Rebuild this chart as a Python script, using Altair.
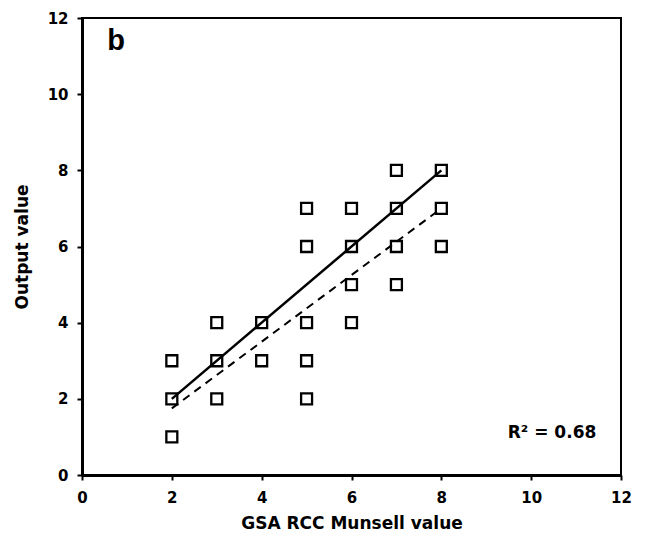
import altair as alt
import pandas as pd

# Observed points (GSA RCC Munsell value vs output value)
x_vals = [2, 2, 2, 3, 3, 3, 4, 4, 5, 5, 5, 5, 5, 6, 6, 6, 6, 7, 7, 7, 7, 8, 8, 8]
y_vals = [1, 2, 3, 2, 3, 4, 3, 4, 2, 3, 4, 6, 7, 4, 5, 6, 7, 5, 6, 7, 8, 6, 7, 8]

# 1:1 line and fitted (dashed) line endpoints
line11_x = [2, 8]
line11_y = [2, 8]
fit_x = [2, 8]
fit_y = [1.75, 7.0]

ticks = [0, 2, 4, 6, 8, 10, 12]

pts = pd.DataFrame({"x": x_vals, "y": y_vals})
l11 = pd.DataFrame({"x": line11_x, "y": line11_y})
fit = pd.DataFrame({"x": fit_x, "y": fit_y})
lab_b = pd.DataFrame({"x": [0.56], "y": [11.15], "t": ["b"]})
lab_r = pd.DataFrame({"x": [11.45], "y": [0.97], "t": ["R² = 0.68"]})

xs = alt.Scale(domain=[0, 12], nice=False, zero=False)
ys = alt.Scale(domain=[0, 12], nice=False, zero=False)

common = dict(grid=False, domainWidth=3, domainColor="black", tickColor="black",
              tickWidth=2, tickSize=5, labelFlush=False,
              labelFont="DejaVu Sans", labelFontWeight="bold", labelFontSize=15,
              labelColor="black", titleFont="DejaVu Sans", titleFontWeight="bold",
              titleFontSize=17, titleColor="black")
xax = alt.Axis(values=ticks, title="GSA RCC Munsell value", labelPadding=10,
               titlePadding=10, **common)
yax = alt.Axis(values=ticks, title="Output value", labelPadding=9,
               titlePadding=16, **common)

points = alt.Chart(pts).mark_point(shape="square", filled=False, size=120,
                                    strokeWidth=2.3, color="black", opacity=1).encode(
    x=alt.X("x:Q", scale=xs, axis=xax),
    y=alt.Y("y:Q", scale=ys, axis=yax),
)

solid = alt.Chart(l11).mark_line(color="black", strokeWidth=2.5).encode(
    x=alt.X("x:Q", scale=xs), y=alt.Y("y:Q", scale=ys))

dashed = alt.Chart(fit).mark_line(color="black", strokeWidth=2, strokeDash=[8, 6]).encode(
    x=alt.X("x:Q", scale=xs), y=alt.Y("y:Q", scale=ys))

tb = alt.Chart(lab_b).mark_text(align="left", baseline="alphabetic", fontSize=29,
                                font="Liberation Sans", fontWeight="bold", color="black").encode(
    x=alt.X("x:Q", scale=xs), y=alt.Y("y:Q", scale=ys), text="t:N")

tr = alt.Chart(lab_r).mark_text(align="right", baseline="alphabetic", fontSize=17,
                                font="DejaVu Sans", fontWeight="bold", color="black").encode(
    x=alt.X("x:Q", scale=xs), y=alt.Y("y:Q", scale=ys), text="t:N")

chart = alt.layer(points, solid, dashed, tb, tr).properties(
    width=539, height=457, background="white",
    padding={"left": 5, "top": 3, "right": 5, "bottom": 0}
).configure_view(stroke="black", strokeWidth=2)

chart.save("out.html", embed_options={"renderer": "svg", "actions": False})
